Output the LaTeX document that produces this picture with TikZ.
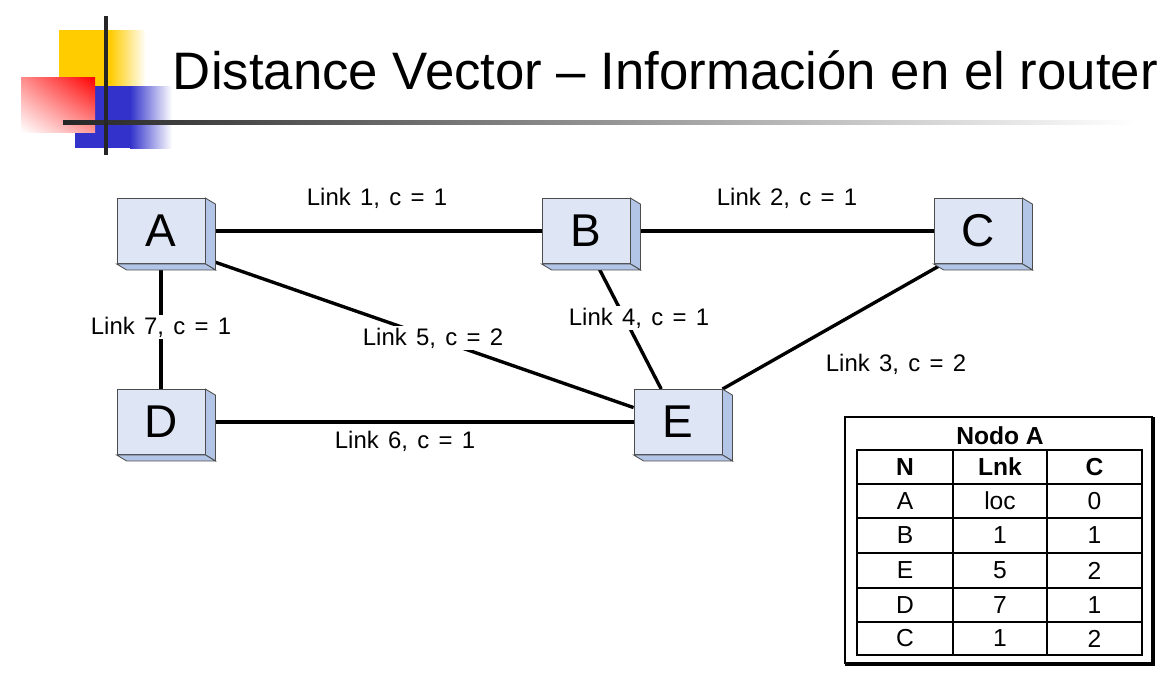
\documentclass[tikz,border=0pt]{standalone}
\usepackage{fontspec}
\setmainfont{Liberation Sans}
\newfontfamily\linkfont[WordSpace=1.4]{Liberation Sans}
\usetikzlibrary{calc,backgrounds,shadings}

\definecolor{routerfront}{HTML}{DEE6F5}
\definecolor{routerside}{HTML}{B2C5E6}
\definecolor{decoyellow}{HTML}{FFCC00}
\definecolor{decoblue}{HTML}{3333CC}

% router drawn as a small 3D box: front node + side and bottom faces
\newcommand{\routerbox}[3]{%
    \node[router] (#1) at (#2) {#3};
    \filldraw[routerface] (#1.north east) -- ++(10,6) -- ($(#1.south east)+(10,6)$)
        -- (#1.south east) -- cycle;
    \filldraw[routerface] (#1.south west) -- ++(10,6) -- ($(#1.south east)+(10,6)$)
        -- (#1.south east) -- cycle;
}

\begin{document}
\begin{tikzpicture}[x=0.025cm, y=-0.025cm,
    router/.style={draw=gray!60!black, line width=0.6pt, fill=routerfront,
        minimum width=2.2cm, minimum height=1.625cm, inner sep=0pt,
        font=\fontsize{32.7}{36}\selectfont},
    routerface/.style={draw=gray!60!black, line width=0.6pt, fill=routerside},
    link/.style={line width=2.4pt, black},
    linklabel/.style={font=\linkfont\fontsize{17}{20}\selectfont, inner sep=1pt},
    onlink/.style={linklabel, fill=white},
    tableline/.style={line width=1.4pt},
    cell/.style={font=\fontsize{17.5}{20}\selectfont, inner sep=0pt}]

    \useasboundingbox (0,0) rectangle (1172,680);

    % --- 1. Title decoration ---
    \fill[decoyellow] (59,30) rectangle (111,86);
    \shade[left color=decoyellow, right color=white] (110,30) rectangle (146,86);
    \fill[decoblue] (75,86) rectangle (131,148);
    \shade[left color=decoblue, right color=white] (130,86) rectangle (172,148);
    \shade[upper right=red, lower left=white, upper left=red!45!white, lower right=red!40!white]
        (21,77) rectangle (95,132);
    \shade[left color=black!85, middle color=black!25, right color=white] (63,120) rectangle (1135,124);
    \draw[line width=3pt, black!85] (106,16) -- (106,155);

    % --- 2. Title ---
    \node[anchor=base west, font=\fontsize{37.5}{41}\selectfont] (title) at (168,89)
        {Distance Vector – Información en el router};

    % --- 3. Routers ---
    \routerbox{A}{161,231}{A}
    \routerbox{B}{586,231}{B}
    \routerbox{C}{978,231}{C}
    \routerbox{D}{161,422}{D}
    \routerbox{E}{678,422}{E}

    % --- 4. Links (behind the boxes) ---
    \begin{scope}[on background layer]
        \draw[link] (A) -- (B);
        \draw[link] (B) -- (C);
        \draw[link] (C.223) -- (E.north east);
        \draw[link] (B.-72) -- (E.117);
        \draw[link] (A.-32) -- (E.162);
        \draw[link] (D) -- (E);
        \draw[link] (A) -- (D);

        \node[linklabel] (l1) at (377,198) {Link 1, c = 1};
        \node[linklabel] (l2) at (787,198) {Link 2, c = 1};
        \node[linklabel] (l3) at (896,364) {Link 3, c = 2};
        \node[onlink] (l4) at (639,318) {Link 4, c = 1};
        \node[onlink] (l5) at (433,338) {Link 5, c = 2};
        \node[linklabel] (l6) at (405,441) {Link 6, c = 1};
        \node[onlink] (l7) at (161,327) {Link 7, c = 1};
    \end{scope}

    % --- 5. Routing table of node A ---
    \draw[line width=0.8pt] (845,664) -- (845,417) -- (1153,417);
    \draw[line width=2.2pt] (1153,417) -- (1153,664) -- (845,664);
    \node[cell, font=\bfseries\fontsize{17.5}{20}\selectfont] (tabtitle) at (1000,436) {Nodo A};

    \draw[tableline] (857,450) rectangle (1142,655);
    \foreach \y in {484,518,553,588,622}
        \draw[tableline] (857,\y) -- (1142,\y);
    \foreach \x in {953,1047}
        \draw[tableline] (\x,450) -- (\x,655);

    \node[cell, font=\bfseries\fontsize{17.5}{20}\selectfont] (hn) at (905,467) {N};
    \node[cell, font=\bfseries\fontsize{17.5}{20}\selectfont] (hl) at (1000,467) {Lnk};
    \node[cell, font=\bfseries\fontsize{17.5}{20}\selectfont] (hc) at (1094.5,467) {C};

    \foreach \n/\l/\c/\y [count=\i] in {A/loc/0/501, B/1/1/535.5, E/5/2/570.5, D/7/1/605, C/1/2/638.5} {
        \node[cell] (n\i) at (905,\y) {\n};
        \node[cell] (l\i) at (1000,\y) {\l};
        \node[cell] (c\i) at (1094.5,\y) {\c};
    }

\end{tikzpicture}
\end{document}
